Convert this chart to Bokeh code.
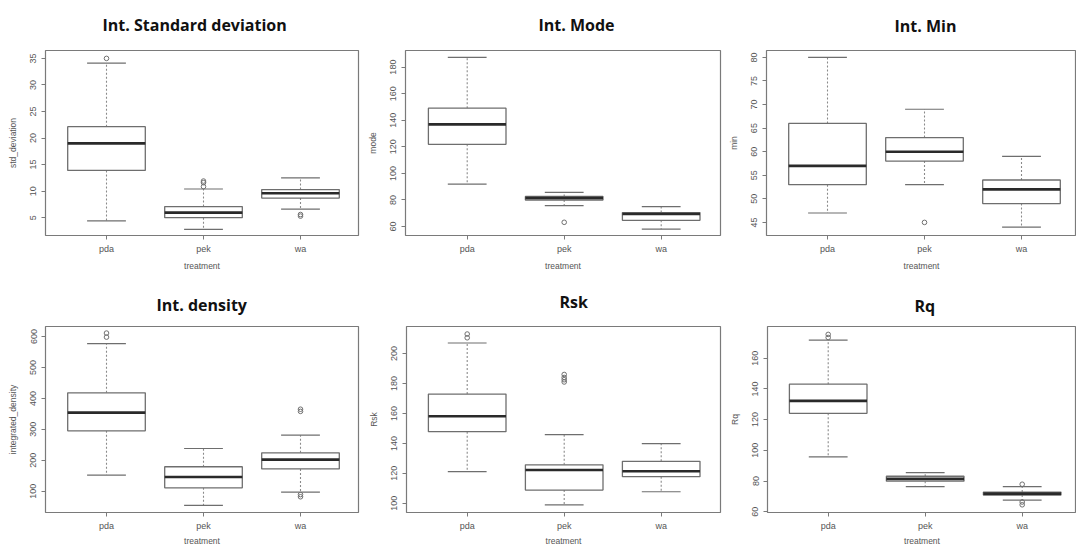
from bokeh.plotting import figure
from bokeh.models import Range1d, FixedTicker, ColumnDataSource
from bokeh.layouts import row, column
from bokeh.embed import file_html
from bokeh.resources import INLINE

TREATMENTS = ["pda", "pek", "wa"]

# Int. Standard deviation (std_deviation)
SD_LOW = [4.4, 2.8, 6.6]
SD_Q1 = [13.9, 5.0, 8.7]
SD_MED = [19.0, 5.95, 9.6]
SD_Q3 = [22.15, 7.1, 10.3]
SD_HIGH = [34.1, 10.4, 12.5]
SD_OUT = [[35.0], [10.85, 11.6, 11.9], [5.3, 5.6]]
SD_TICKS = [5, 10, 15, 20, 25, 30, 35]

# Int. Mode (mode)
MODE_LOW = [92.0, 75.7, 58.0]
MODE_Q1 = [121.9, 80.0, 64.7]
MODE_MED = [136.9, 81.5, 69.5]
MODE_Q3 = [149.1, 82.7, 70.5]
MODE_HIGH = [187.3, 85.7, 75.0]
MODE_OUT = [[], [63.2], []]
MODE_TICKS = [60, 80, 100, 120, 140, 160, 180]

# Int. Min (min)
MIN_LOW = [47, 53, 44]
MIN_Q1 = [53, 58, 49]
MIN_MED = [57, 60, 52]
MIN_Q3 = [66, 63, 54]
MIN_HIGH = [80, 69, 59]
MIN_OUT = [[], [45], []]
MIN_TICKS = [45, 50, 55, 60, 65, 70, 75, 80]

# Int. density (integrated_density)
DENS_LOW = [152, 54, 97]
DENS_Q1 = [295, 111, 172]
DENS_MED = [354, 146, 202]
DENS_Q3 = [418, 179, 224]
DENS_HIGH = [577, 238, 281]
DENS_OUT = [[598, 611], [], [358, 365, 82, 89]]
DENS_TICKS = [100, 200, 300, 400, 500, 600]

# Rsk
RSK_LOW = [121.1, 98.9, 107.7]
RSK_Q1 = [147.8, 108.8, 117.8]
RSK_MED = [158.1, 122.2, 121.4]
RSK_Q3 = [172.9, 125.7, 128.0]
RSK_HIGH = [207.0, 145.8, 139.9]
RSK_OUT = [[210.5, 213.0], [181.0, 182.5, 184.0, 186.0], []]
RSK_TICKS = [100, 120, 140, 160, 180, 200]

# Rq
RQ_LOW = [95.7, 76.3, 67.5]
RQ_Q1 = [124.1, 79.9, 70.8]
RQ_MED = [132.2, 81.4, 71.8]
RQ_Q3 = [143.1, 83.1, 72.8]
RQ_HIGH = [171.8, 85.4, 76.3]
RQ_OUT = [[173.5, 175.5], [], [77.9, 66.3, 64.5]]
RQ_TICKS = [60, 80, 100, 120, 140, 160]

BOX_HALF = 0.4
CAP_HALF = 0.2
LINE = "#6e6e6e"
TEXT = "#555555"
PANEL_H = 275
X_PX_PER_UNIT = 97.0


def boxplot(title, ylabel, low, q1, med, q3, high, outliers, yticks, scale,
            width, frame, first_px, title_offset, title_standoff, label_gap):
    """scale: (pixel, value, pixel, value) of two y ticks, row-relative.
    frame: (left, right, top, bottom) frame edges in figure pixels."""
    fl, fr, ft, fb = frame
    ya, va, yb, vb = scale
    k = (yb - ya) / (va - vb)
    y0 = va - (fb - ya) / k
    y1 = va + (ya - ft) / k
    x0 = 1 - (first_px - fl) / X_PX_PER_UNIT
    x1 = x0 + (fr - fl) / X_PX_PER_UNIT

    p = figure(width=width, height=PANEL_H, output_backend="svg",
               toolbar_location=None, tools="",
               x_range=Range1d(x0, x1), y_range=Range1d(y0, y1),
               min_border_left=fl, min_border_right=width - fr,
               min_border_top=ft, min_border_bottom=PANEL_H - fb,
               background_fill_color="white", border_fill_color="white")
    p.title.text = title
    p.title.text_font = "Open Sans"
    p.title.text_font_size = "16px"
    p.title.text_font_style = "bold"
    p.title.text_color = "#111111"
    p.title.align = "left"
    p.title.vertical_align = "top"
    p.title.offset = title_offset
    p.title.standoff = title_standoff

    p.grid.visible = False
    p.outline_line_color = "#7a7a7a"
    p.outline_line_width = 1.2

    xs = [i + 1 for i in range(len(TREATMENTS))]
    src = ColumnDataSource(dict(
        x=xs, left=[x - BOX_HALF for x in xs], right=[x + BOX_HALF for x in xs],
        cl=[x - CAP_HALF for x in xs], cr=[x + CAP_HALF for x in xs],
        low=low, q1=q1, med=med, q3=q3, high=high))

    # dashed whiskers
    p.segment(x0="x", y0="q3", x1="x", y1="high", source=src,
              line_color="#8a8a8a", line_width=1.1, line_dash="2 2")
    p.segment(x0="x", y0="q1", x1="x", y1="low", source=src,
              line_color="#8a8a8a", line_width=1.1, line_dash="2 2")
    # whisker caps
    p.segment(x0="cl", y0="high", x1="cr", y1="high", source=src,
              line_color=LINE, line_width=1.2)
    p.segment(x0="cl", y0="low", x1="cr", y1="low", source=src,
              line_color=LINE, line_width=1.2)
    # boxes and medians
    p.quad(left="left", right="right", bottom="q1", top="q3", source=src,
           fill_color="white", line_color=LINE, line_width=1.3)
    p.segment(x0="left", y0="med", x1="right", y1="med", source=src,
              line_color="#2a2a2a", line_width=2.6)

    ox, oy = [], []
    for i, vals in enumerate(outliers):
        for v in vals:
            ox.append(i + 1)
            oy.append(v)
    p.scatter(ox, oy, marker="circle", size=4.6, fill_color=None,
              line_color="#707070", line_width=1)

    xaxis, yaxis = p.below[0], p.left[0]
    xaxis.ticker = FixedTicker(ticks=xs)
    xaxis.major_label_overrides = {x: t for x, t in zip(xs, TREATMENTS)}
    yaxis.ticker = FixedTicker(ticks=yticks)
    yaxis.major_label_orientation = "vertical"
    xaxis.axis_label = "treatment"
    yaxis.axis_label = ylabel

    for ax in (xaxis, yaxis):
        ax.axis_line_color = None
        ax.major_tick_line_color = "#7a7a7a"
        ax.major_tick_in = 0
        ax.major_tick_out = 4
        ax.minor_tick_line_color = None
        ax.major_label_text_font = "Liberation Sans"
        ax.major_label_text_font_size = "9px"
        ax.major_label_text_color = TEXT
        ax.axis_label_text_font = "Liberation Sans"
        ax.axis_label_text_font_size = "8.5px"
        ax.axis_label_text_font_style = "normal"
        ax.axis_label_text_color = TEXT
    xaxis.major_label_standoff = 4
    xaxis.axis_label_standoff = label_gap
    yaxis.major_label_standoff = 5
    yaxis.axis_label_standoff = 10
    return p


p1 = boxplot("Int. Standard deviation", "std_deviation",
             SD_LOW, SD_Q1, SD_MED, SD_Q3, SD_HIGH, SD_OUT, SD_TICKS,
             (56.0, 35, 217.0, 5), 362, (45, 358, 48, 235), 106, 57, 25, 4)
p2 = boxplot("Int. Mode", "mode",
             MODE_LOW, MODE_Q1, MODE_MED, MODE_Q3, MODE_HIGH, MODE_OUT, MODE_TICKS,
             (65.7, 180, 226.0, 60), 360, (43, 358, 49, 235), 104.7, 133, 26, 4)
p3 = boxplot("Int. Min", "min",
             MIN_LOW, MIN_Q1, MIN_MED, MIN_Q3, MIN_HIGH, MIN_OUT, MIN_TICKS,
             (54.0, 80, 221.7, 45), 354, (44, 354, 47, 235), 105, 128, 24, 4)
p4 = boxplot("Int. density", "integrated_density",
             DENS_LOW, DENS_Q1, DENS_MED, DENS_Q3, DENS_HIGH, DENS_OUT, DENS_TICKS,
             (61.0, 600, 215.7, 100), 362, (45, 358, 51, 237), 106, 111, 17, 2)
p5 = boxplot("Rsk", "Rsk",
             RSK_LOW, RSK_Q1, RSK_MED, RSK_Q3, RSK_HIGH, RSK_OUT, RSK_TICKS,
             (76.3, 200, 227.7, 100), 360, (44, 358, 49, 237), 104.7, 153, 23, 2)
p6 = boxplot("Rq", "Rq",
             RQ_LOW, RQ_Q1, RQ_MED, RQ_Q3, RQ_HIGH, RQ_OUT, RQ_TICKS,
             (82.7, 160, 236.2, 60), 354, (45, 354, 51, 237), 105.7, 147, 16, 2)

layout = column(row(p1, p2, p3), row(p4, p5, p6))

with open("out.html", "w") as f:
    f.write(file_html(layout, INLINE))
